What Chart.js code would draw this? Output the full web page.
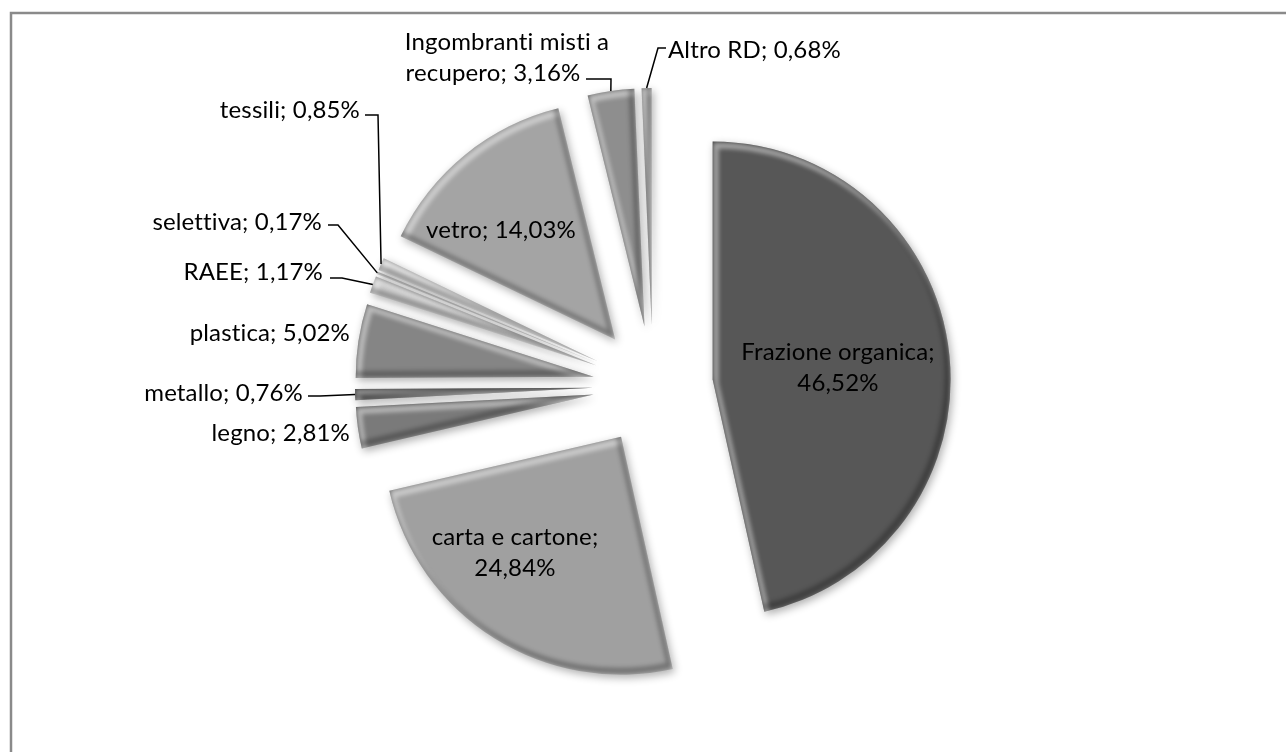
<!DOCTYPE html>
<html><head><meta charset="utf-8">
<script src="https://cdn.jsdelivr.net/npm/chart.js@4.4.1/dist/chart.umd.min.js"></script>
<style>html,body{margin:0;padding:0;background:#fff}#wrap{width:1286px;height:752px;position:relative}canvas{display:block}</style>
</head><body><div id="wrap"><canvas id="c" width="1286" height="752"></canvas></div>
<script>
// ---- data ----
const categories = ["Frazione organica", "carta e cartone", "legno", "metallo", "plastica", "RAEE", "selettiva", "tessili", "vetro", "Ingombranti misti a recupero", "Altro RD"];
const values = [46.52, 24.84, 2.81, 0.76, 5.02, 1.17, 0.17, 0.85, 14.03, 3.16, 0.68];
const sliceColors = ["#575757", "#a0a0a0", "#7a7a7a", "#555555", "#858585", "#c9c9c9", "#e4e4e4", "#d2d2d2", "#a4a4a4", "#8e8e8e", "#a6a6a6"];

// ---- label layout (text placement only) ----
const labelLayout = [
  {xs: [838, 838], y: 352, align: 'center', breakAt: 18},
  {xs: [515, 515], y: 537, align: 'center', breakAt: 16},
  {xs: [350], y: 433, align: 'right'},
  {xs: [303], y: 393, align: 'right', leader: [308, 396, 320]},
  {xs: [350], y: 333, align: 'right'},
  {xs: [323], y: 272, align: 'right', leader: [330, 278, 342]},
  {xs: [322], y: 222, align: 'right', leader: [328, 225, 338]},
  {xs: [360], y: 110, align: 'right', leader: [365, 115, 378]},
  {xs: [501], y: 230, align: 'center'},
  {xs: [507, 493], y: 42, align: 'center', breakAt: 19, leader: [586, 79, 611]},
  {xs: [668], y: 50, align: 'left', leader: [666, 48, 658]}
];
const explodeDist = 60;
const fontSpec = '24px Lato';
const lineGap = 31;

function fmt(v) { return v.toFixed(2).replace('.', ',') + '%'; }

const geom = [];
const piePlugin = {
  id: 'explodedPie',
  beforeDatasetsDraw(chart) {
    const ctx = chart.ctx;
    const meta = chart.getDatasetMeta(0);
    meta.data.forEach((arc, i) => {
      const p = arc.getProps(['x', 'y', 'startAngle', 'endAngle', 'outerRadius'], true);
      const mid = (p.startAngle + p.endAngle) / 2;
      const cx = p.x + Math.cos(mid) * explodeDist;
      const cy = p.y + Math.sin(mid) * explodeDist;
      const path = new Path2D();
      path.moveTo(cx, cy);
      path.arc(cx, cy, p.outerRadius, p.startAngle, p.endAngle);
      path.closePath();
      geom[i] = {ox: cx + Math.cos(mid) * p.outerRadius, oy: cy + Math.sin(mid) * p.outerRadius};
      const color = arc.options.backgroundColor;
      ctx.save();
      ctx.shadowColor = 'rgba(0,0,0,0.32)';
      ctx.shadowBlur = 8;
      ctx.shadowOffsetX = 2;
      ctx.shadowOffsetY = 3;
      ctx.fillStyle = color;
      ctx.fill(path);
      ctx.restore();
      ctx.save();
      ctx.clip(path);
      ctx.filter = 'blur(2px)';
      ctx.lineJoin = 'round';
      ctx.translate(3, 4);
      ctx.lineWidth = 6;
      ctx.strokeStyle = 'rgba(255,255,255,0.45)';
      ctx.stroke(path);
      ctx.translate(-6, -8);
      ctx.strokeStyle = 'rgba(0,0,0,0.28)';
      ctx.stroke(path);
      ctx.restore();
    });
    return false;
  },
  afterDraw(chart) {
    const ctx = chart.ctx;
    ctx.save();
    ctx.strokeStyle = '#8a8a8a';
    ctx.lineWidth = 2.5;
    ctx.strokeRect(11, 13, 1400, 900);
    ctx.font = fontSpec;
    try { ctx.letterSpacing = '0.15px'; } catch (e) {}
    ctx.fillStyle = '#000';
    ctx.textBaseline = 'middle';
    labelLayout.forEach((L, i) => {
      const full = categories[i] + '; ' + fmt(values[i]);
      const lines = L.breakAt ? [full.slice(0, L.breakAt), full.slice(L.breakAt).trim()] : [full];
      ctx.textAlign = L.align;
      lines.forEach((t, k) => ctx.fillText(t, L.xs[k] !== undefined ? L.xs[k] : L.xs[0], L.y + k * lineGap));
      if (L.leader && geom[i]) {
        ctx.beginPath();
        ctx.strokeStyle = '#000';
        ctx.lineWidth = 1.5;
        ctx.moveTo(L.leader[0], L.leader[1]);
        ctx.lineTo(L.leader[2], L.leader[1]);
        ctx.lineTo(geom[i].ox, geom[i].oy);
        ctx.stroke();
      }
    });
    ctx.restore();
  }
};

new Chart(document.getElementById('c'), {
  type: 'pie',
  data: {
    labels: categories,
    datasets: [{data: values, backgroundColor: sliceColors, borderWidth: 0, radius: 238}]
  },
  options: {
    responsive: false,
    animation: false,
    devicePixelRatio: 1,
    layout: {padding: {left: 20, right: 0, top: 20, bottom: 0}},
    plugins: {legend: {display: false}, tooltip: {enabled: false}}
  },
  plugins: [piePlugin]
});
</script>
</body></html>
